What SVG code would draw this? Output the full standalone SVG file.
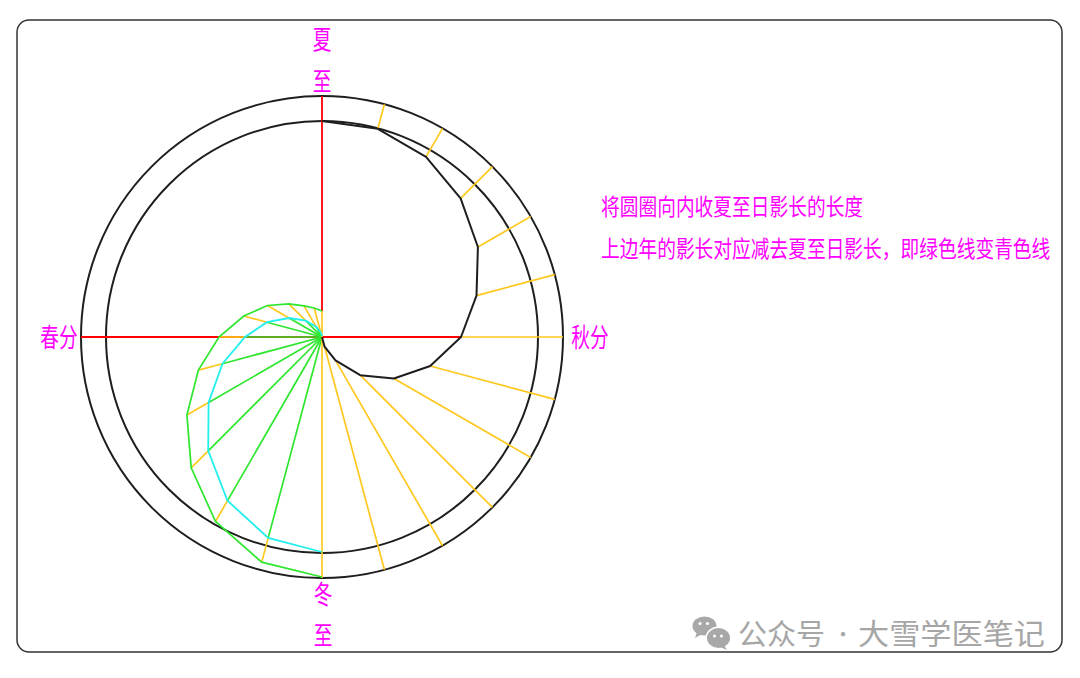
<svg xmlns="http://www.w3.org/2000/svg" width="1080" height="678" viewBox="0 0 1080 678">
<style>
.circ{fill:none;stroke:#1e1e1e;stroke-width:2}
.red{stroke:#ff0000;stroke-width:1.8;fill:none}
.yel{stroke:#ffc81e;stroke-width:1.7;fill:none}
.grn{stroke:#2ee62e;stroke-width:1.7;fill:none}
.cyn{stroke:#22eeee;stroke-width:1.8;fill:none}
.blk{stroke:#1e1e1e;stroke-width:2;fill:none;stroke-linejoin:round}
.lbl{font-family:"Noto Sans CJK SC",sans-serif;font-size:26px;fill:#ff00ff;text-anchor:middle}
.note{font-family:"Noto Sans CJK SC",sans-serif;font-size:23px;fill:#ff00ff}
.wm{font-family:"Noto Sans CJK SC",sans-serif;font-size:29px;fill:#a6a6a6}
</style>
<rect x="0" y="0" width="1080" height="678" fill="#ffffff"/>
<rect id="frame" x="17" y="20" width="1045" height="632" rx="12" fill="none" stroke="#333333" stroke-width="1.5"/>

<g id="circles">
<circle class="circ" cx="322" cy="337" r="241"/>
<circle class="circ" cx="322" cy="337" r="216"/>
</g>

<g id="connectors">
<line class="red" x1="81" y1="337" x2="461" y2="337"/>
<line class="red" x1="322" y1="96" x2="322" y2="311"/>
<line class="yel" x1="377.8" y1="128.8" x2="384.4" y2="104.2"/>
<line class="yel" x1="426" y1="156.9" x2="442.5" y2="128.3"/>
<line class="yel" x1="460.6" y1="198.4" x2="492.4" y2="166.6"/>
<line class="yel" x1="477.9" y1="247" x2="530.7" y2="216.5"/>
<line class="yel" x1="476.5" y1="295.6" x2="554.8" y2="274.6"/>
<line class="yel" x1="461" y1="337" x2="563" y2="337"/>
<line class="yel" x1="430.2" y1="366" x2="554.8" y2="399.4"/>
<line class="yel" x1="393.9" y1="378.5" x2="530.7" y2="457.5"/>
<line class="yel" x1="360.2" y1="375.2" x2="492.4" y2="507.4"/>
<line class="yel" x1="335.5" y1="360.4" x2="442.5" y2="545.7"/>
<line class="yel" x1="324.6" y1="346.7" x2="384.4" y2="569.8"/>
<line class="grn" x1="322" y1="337" x2="268.2" y2="537.9"/>
<line class="grn" x1="322" y1="337" x2="227.5" y2="500.7"/>
<line class="grn" x1="322" y1="337" x2="208.2" y2="450.8"/>
<line class="grn" x1="322" y1="337" x2="208.6" y2="402.5"/>
<line class="grn" x1="322" y1="337" x2="222.5" y2="363.7"/>
<line class="grn" x1="322" y1="337" x2="245" y2="337"/>
<line class="grn" x1="322" y1="337" x2="266.9" y2="322.2"/>
<line class="grn" x1="322" y1="337" x2="289.1" y2="318"/>
<line class="grn" x1="322" y1="337" x2="305.7" y2="320.7"/>
<line class="grn" x1="322" y1="337" x2="316" y2="326.6"/>
<line class="yel" x1="268.2" y1="537.9" x2="261.7" y2="562.1"/>
<line class="yel" x1="227.5" y1="500.7" x2="215.5" y2="521.5"/>
<line class="yel" x1="208.2" y1="450.8" x2="191.2" y2="467.8"/>
<line class="yel" x1="208.6" y1="402.5" x2="186.9" y2="415"/>
<line class="yel" x1="222.5" y1="363.7" x2="198.4" y2="370.1"/>
<line class="yel" x1="245" y1="337" x2="219" y2="337"/>
<line class="yel" x1="266.9" y1="322.2" x2="243.8" y2="316"/>
<line class="yel" x1="289.1" y1="318" x2="267.4" y2="305.5"/>
<line class="yel" x1="305.7" y1="320.7" x2="288.8" y2="303.8"/>
<line class="yel" x1="316" y1="326.6" x2="304" y2="305.8"/>
<line class="yel" x1="320.7" y1="332.2" x2="314.2" y2="308"/>
<line class="yel" x1="322" y1="337" x2="322" y2="311"/>
<line class="yel" x1="322" y1="337" x2="322" y2="578"/>
<polyline id="green-curve" class="grn" points="322,577 261.7,562.1 215.5,521.5 191.2,467.8 186.9,415 198.4,370.1 219,337 243.8,316 267.4,305.5 288.8,303.8 304,305.8 314.2,308 322,311"/>
<polyline id="cyan-curve" class="cyn" points="322,552 268.2,537.9 227.5,500.7 208.2,450.8 208.6,402.5 222.5,363.7 245,337 266.9,322.2 289.1,318 305.7,320.7 316,326.6 320.7,332.2 322,336"/>
<polyline id="black-curve" class="blk" points="322,121 377.8,128.8 426,156.9 460.6,198.4 477.9,247 476.5,295.6 461,337 430.2,366 393.9,378.5 360.2,375.2 335.5,360.4 324.6,346.7 322,337"/>
</g>

<g id="label-xiazhi">
<text class="lbl" transform="translate(322,49) scale(0.72,1)">夏</text>
<text class="lbl" transform="translate(322,91) scale(0.72,1)">至</text>
</g>
<g id="label-chunfen">
<text class="lbl" transform="translate(59,347) scale(0.72,1)">春分</text>
</g>
<g id="label-qiufen">
<text class="lbl" transform="translate(590,347) scale(0.72,1)">秋分</text>
</g>
<g id="label-dongzhi">
<text class="lbl" transform="translate(323,604) scale(0.72,1)">冬</text>
<text class="lbl" transform="translate(323,645) scale(0.72,1)">至</text>
</g>
<g id="note">
<text class="note" transform="translate(601,215) scale(0.814,1)">将圆圈向内收夏至日影长的长度</text>
<text class="note" transform="translate(601,257) scale(0.814,1)">上边年的影长对应减去夏至日影长，即绿色线变青色线</text>
</g>
<g id="watermark">
<ellipse cx="704.5" cy="626" rx="12" ry="9.5" fill="#a8a8a8"/>
<path d="M697 632 L695 638 L702 634 Z" fill="#a8a8a8"/>
<ellipse cx="718.5" cy="638" rx="13" ry="11.5" fill="#ffffff"/>
<ellipse cx="718.5" cy="638" rx="11.5" ry="10" fill="#a8a8a8"/>
<path d="M724 645 L727 650 L720 647 Z" fill="#a8a8a8"/>
<circle cx="700" cy="623.5" r="1.6" fill="#ffffff"/>
<circle cx="707.5" cy="623.5" r="1.6" fill="#ffffff"/>
<circle cx="714.5" cy="636" r="1.5" fill="#ffffff"/>
<circle cx="721.5" cy="636" r="1.5" fill="#ffffff"/>
<text class="wm" x="738" y="645">公众号</text>
<text class="wm" x="843" y="642" text-anchor="middle" style="font-size:20px">·</text>
<text class="wm" x="858" y="645" textLength="187" lengthAdjust="spacingAndGlyphs">大雪学医笔记</text>
</g>
</svg>
